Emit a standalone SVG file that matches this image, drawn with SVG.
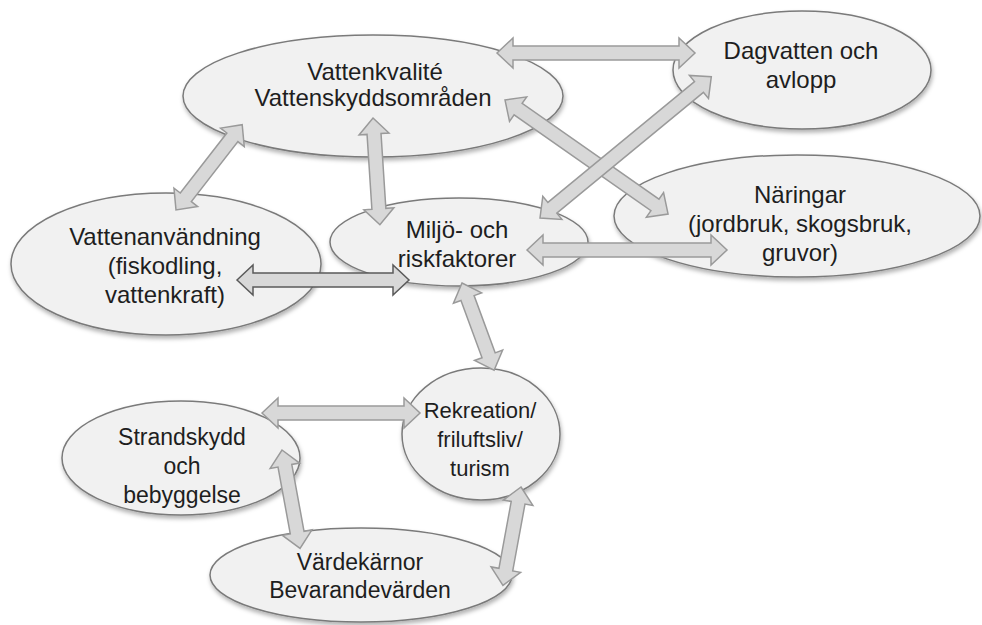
<svg xmlns="http://www.w3.org/2000/svg" width="982" height="625" viewBox="0 0 982 625">
<defs>
<filter id="sh" x="-10%" y="-10%" width="120%" height="130%">
<feDropShadow dx="1" dy="3" stdDeviation="2" flood-color="#000" flood-opacity="0.3"/>
</filter>
<style>
.node ellipse{fill:#f1f1f1;stroke:#7a7a7a;stroke-width:1.5;filter:url(#sh)}
.node text{font-family:"Liberation Sans",Arial,sans-serif;font-size:24px;fill:#1e1e1e;text-anchor:middle}
.node text.m{font-size:23px}
.node text.s{font-size:22px}
.arr path{fill:#d8d8d8;stroke:#9a9a9a;stroke-width:1.5;stroke-linejoin:miter}
</style>
</defs>
<rect width="982" height="625" fill="#fff"/>
<g id="vattenkvalite" class="node">
<ellipse cx="373" cy="96" rx="190" ry="61"/>
<text x="375" y="80">Vattenkvalité</text>
<text x="373" y="106">Vattenskyddsområden</text>
</g>
<g id="dagvatten" class="node">
<ellipse cx="802" cy="70" rx="129" ry="59"/>
<text x="801" y="59">Dagvatten och</text>
<text x="801" y="88">avlopp</text>
</g>
<g id="vattenanvandning" class="node">
<ellipse cx="166" cy="264" rx="155" ry="71"/>
<text x="165" y="245">Vattenanvändning</text>
<text x="165" y="274">(fiskodling,</text>
<text x="165" y="303">vattenkraft)</text>
</g>
<g id="miljo" class="node">
<ellipse cx="459" cy="242" rx="129" ry="44"/>
<text x="457" y="238">Miljö- och</text>
<text x="457" y="267">riskfaktorer</text>
</g>
<g id="naringar" class="node">
<ellipse cx="797" cy="216" rx="183" ry="61"/>
<text x="800" y="203">Näringar</text>
<text x="800" y="232">(jordbruk, skogsbruk,</text>
<text x="800" y="261">gruvor)</text>
</g>
<g id="rekreation" class="node">
<ellipse cx="481" cy="434" rx="79" ry="66"/>
<text class="s" x="480" y="418">Rekreation/</text>
<text class="s" x="480" y="447">friluftsliv/</text>
<text class="s" x="480" y="476">turism</text>
</g>
<g id="strandskydd" class="node">
<ellipse cx="181" cy="458" rx="119" ry="57"/>
<text class="m" x="182" y="445">Strandskydd</text>
<text class="m" x="182" y="474">och</text>
<text class="m" x="182" y="503">bebyggelse</text>
</g>
<g id="vardekarnor" class="node">
<ellipse cx="361" cy="575" rx="151" ry="47"/>
<text class="m" x="360" y="570">Värdekärnor</text>
<text class="m" x="360" y="598">Bevarandevärden</text>
</g>
<g id="connectors" class="arr">
<g transform="translate(497,53) rotate(0)"><path d="M0,0 L16,-15 L16,-7 L182,-7 L182,-15 L198,0 L182,15 L182,7 L16,7 L16,15 Z"/></g>
<g transform="translate(505,100) rotate(34.97)"><path d="M0,0 L16,-15 L16,-7 L183,-7 L183,-15 L199,0 L183,15 L183,7 L16,7 L16,15 Z"/></g>
<g transform="translate(540,218) rotate(-39.5)"><path d="M0,0 L16,-15 L16,-7 L206,-7 L206,-15 L222,0 L206,15 L206,7 L16,7 L16,15 Z"/></g>
<g transform="translate(176,210) rotate(-52.2)"><path d="M0,0 L16,-15 L16,-7 L92,-7 L92,-15 L108,0 L92,15 L92,7 L16,7 L16,15 Z"/></g>
<g transform="translate(373,118) rotate(86.3)"><path d="M0,0 L16,-15 L16,-7 L91,-7 L91,-15 L107,0 L91,15 L91,7 L16,7 L16,15 Z"/></g>
<g transform="translate(237,280) rotate(0)"><path style="stroke:#5a5a5a" d="M0,0 L16,-15 L16,-7 L156,-7 L156,-15 L172,0 L156,15 L156,7 L16,7 L16,15 Z"/></g>
<g transform="translate(527,250) rotate(0)"><path d="M0,0 L16,-15 L16,-7 L184,-7 L184,-15 L200,0 L184,15 L184,7 L16,7 L16,15 Z"/></g>
<g transform="translate(462,283) rotate(69.8)"><path d="M0,0 L16,-15 L16,-7 L77,-7 L77,-15 L93,0 L77,15 L77,7 L16,7 L16,15 Z"/></g>
<g transform="translate(262,413) rotate(0)"><path d="M0,0 L16,-15 L16,-7 L142,-7 L142,-15 L158,0 L142,15 L142,7 L16,7 L16,15 Z"/></g>
<g transform="translate(282,450) rotate(79.6)"><path d="M0,0 L16,-15 L16,-7 L84,-7 L84,-15 L100,0 L84,15 L84,7 L16,7 L16,15 Z"/></g>
<g transform="translate(521,487) rotate(100.4)"><path d="M0,0 L16,-15 L16,-7 L84,-7 L84,-15 L100,0 L84,15 L84,7 L16,7 L16,15 Z"/></g>
</g>
</svg>
